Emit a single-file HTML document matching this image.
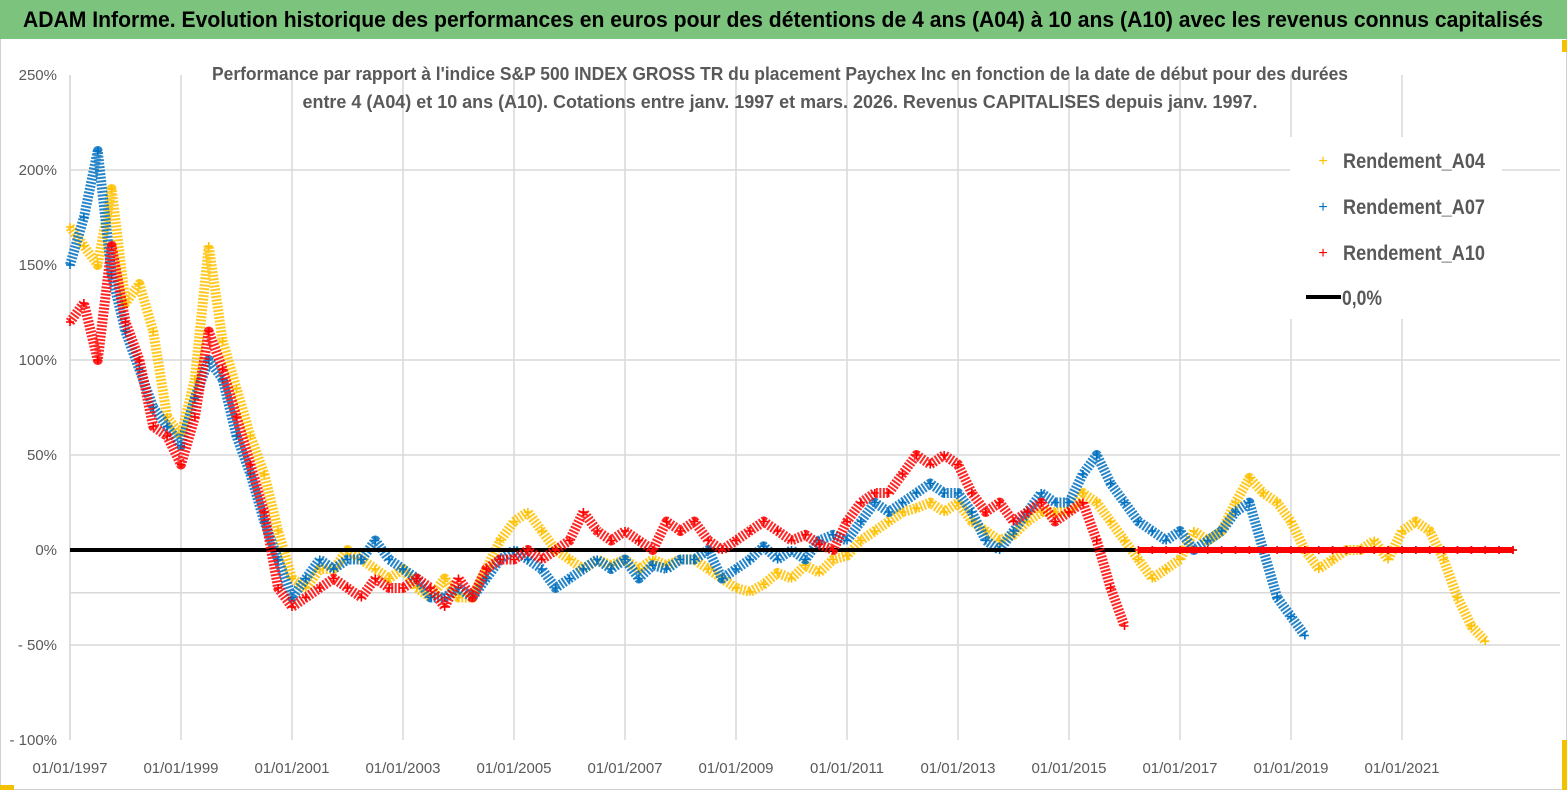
<!DOCTYPE html>
<html><head><meta charset="utf-8"><style>
html,body{margin:0;padding:0;background:#fff;}
svg{display:block;font-family:"Liberation Sans Narrow","Liberation Sans",sans-serif;}
</style></head><body>
<svg id="chart" width="1567" height="790" viewBox="0 0 1567 790" xmlns="http://www.w3.org/2000/svg">
<rect x="0.5" y="0.5" width="1566" height="789" fill="#fff" stroke="#d0d0d0"/>
<rect x="0" y="0" width="1567" height="39" fill="#7cc47e"/>
<text x="783" y="27" text-anchor="middle" font-size="22" font-weight="bold" fill="#000" textLength="1520" lengthAdjust="spacingAndGlyphs">ADAM Informe. Evolution historique des performances en euros pour des détentions de 4 ans (A04) à 10 ans (A10) avec les revenus connus capitalisés</text>
<g id="grid"></g>
<g id="yaxis"></g>
<g id="xaxis"></g>
<g id="series"></g>
<text x="780" y="80" text-anchor="middle" font-size="18" font-weight="bold" fill="#595959" textLength="1136" lengthAdjust="spacingAndGlyphs">Performance par rapport à l'indice S&amp;P 500 INDEX GROSS TR  du placement Paychex Inc en fonction de la date de début pour des durées</text>
<text x="780" y="108" text-anchor="middle" font-size="18" font-weight="bold" fill="#595959" textLength="955" lengthAdjust="spacingAndGlyphs">entre 4 (A04) et 10 ans (A10). Cotations entre janv. 1997 et mars. 2026. Revenus CAPITALISES depuis janv. 1997.</text>
<g>
<rect x="1290" y="137" width="212" height="182" fill="#fff"/>
<g><text x="1323" y="166" font-size="16" fill="#FFC000" text-anchor="middle">+</text><text x="1343" y="168" font-size="21" font-weight="bold" fill="#595959" textLength="142" lengthAdjust="spacingAndGlyphs">Rendement_A04</text></g>
<g><text x="1323" y="212" font-size="16" fill="#0070C0" text-anchor="middle">+</text><text x="1343" y="214" font-size="21" font-weight="bold" fill="#595959" textLength="142" lengthAdjust="spacingAndGlyphs">Rendement_A07</text></g>
<g><text x="1323" y="258" font-size="16" fill="#FF0000" text-anchor="middle">+</text><text x="1343" y="260" font-size="21" font-weight="bold" fill="#595959" textLength="142" lengthAdjust="spacingAndGlyphs">Rendement_A10</text></g>
<g><line x1="1306" y1="297" x2="1341" y2="297" stroke="#000" stroke-width="4"/><text x="1342" y="305" font-size="21" font-weight="bold" fill="#595959" textLength="40" lengthAdjust="spacingAndGlyphs">0,0%</text></g>
</g>
<rect x="0" y="785" width="14" height="5" fill="#f2c200"/>
<rect x="1562" y="740" width="5" height="50" fill="#f2c200"/>
<rect x="1562" y="40" width="5" height="12" fill="#f2c200"/>
</svg>
<script>
const startYear = 1997;
const stepYears = 0.25;
const yTicks = [250, 200, 150, 100, 50, 0, -50, -100];
const yTickLabels = ["250%", "200%", "150%", "100%", "50%", "0%", "- 50%", "- 100%"];
const yGridValues = [200, 100, 50, -22.5, -50];
const xTickYears = [1997, 1999, 2001, 2003, 2005, 2007, 2009, 2011, 2013, 2015, 2017, 2019, 2021];
const xTickLabels = ["01/01/1997","01/01/1999","01/01/2001","01/01/2003","01/01/2005","01/01/2007","01/01/2009","01/01/2011","01/01/2013","01/01/2015","01/01/2017","01/01/2019","01/01/2021"];
const zeroLineEndYear = 2016.2;
const rendementA04 = [170,160,150,190, 130,140,115,70, 60,90,160,110, 85,60,40,10, -15,-20,-10,-10, 0,-5,-10,-15, -10,-20,-25,-15, -25,-25,-10,5, 15,20,10,0, -5,-10,-5,-8, -5,-10,-5,-8, -5,-5,-10,-15, -20,-22,-18,-12, -15,-8,-12,-5, -3,5,10,15, 20,22,25,20, 25,15,10,5, 8,15,20,20, 20,30,25,15, 5,-5,-15,-10, -5,10,5,10, 25,38,30,25, 15,0,-10,-5, 0,0,5,-5, 10,15,10,-5, -25,-40,-48,0, 0];
const rendementA07 = [150,175,210,145, 115,95,75,65, 55,80,100,90, 60,40,15,-5, -25,-15,-5,-10, -5,-5,5,-5, -10,-15,-25,-25, -20,-25,-15,-5, 0,-5,-10,-20, -15,-10,-5,-10, -5,-15,-8,-10, -5,-5,0,-15, -10,-5,2,-5, 0,-5,5,8, 5,15,25,20, 25,30,35,30, 30,20,5,0, 10,20,30,25, 25,40,50,35, 25,15,10,5, 10,0,5,10, 20,25,0,-25, -35,-45,0,0, 0,0,0,0, 0,0,0,0, 0,0,0,0, 0];
const rendementA10 = [120,130,100,160, 120,100,65,60, 45,70,115,95, 70,45,20,-20, -30,-25,-20,-15, -20,-25,-15,-20, -20,-15,-20,-30, -15,-25,-10,-5, -5,0,-5,0, 5,20,10,5, 10,5,0,15, 10,15,5,0, 5,10,15,10, 5,8,3,0, 15,25,30,30, 40,50,45,50, 45,30,20,25, 15,20,25,15, 20,25,5,-20, -40,0,0,0, 0,0,0,0, 0,0,0,0, 0,0,0,0, 0,0,0,0, 0,0,0,0, 0,0,0,0, 0];

const NS = "http://www.w3.org/2000/svg";
const X0 = 70, PXYEAR = 55.5, Y0 = 550, PXPCT = 1.9;
function xScale(year){ return X0 + (year - startYear) * PXYEAR; }
function yScale(v){ return Y0 - v * PXPCT; }
function mk(tag, attrs, parent){ const e = document.createElementNS(NS, tag); for (const k in attrs) e.setAttribute(k, attrs[k]); parent.appendChild(e); return e; }

const grid = document.getElementById('grid');
const yaxis = document.getElementById('yaxis');
const xaxis = document.getElementById('xaxis');
const series = document.getElementById('series');

xTickYears.forEach((yr, i) => {
  const l = mk('line', {x1: xScale(yr), x2: xScale(yr), y1: yScale(250), y2: yScale(-100), stroke: '#d9d9d9', 'stroke-width': 1.5}, grid);
  
  
  const t = mk('text', {x: xScale(yr), y: 773, 'text-anchor': 'middle', 'font-size': 15, fill: '#595959'}, xaxis);
  t.textContent = xTickLabels[i];
  
  
});
yGridValues.forEach(v => {
  const l = mk('line', {x1: X0, x2: 1560, y1: yScale(v), y2: yScale(v), stroke: '#d9d9d9', 'stroke-width': 1.5}, grid);
  
  
});
yTicks.forEach((v, i) => {
  const t = mk('text', {x: 57, y: yScale(v) + 5, 'text-anchor': 'end', 'font-size': 15, fill: '#595959'}, yaxis);
  t.textContent = yTickLabels[i];
  
  
});

function lastNonZero(arr){ let k = 0; arr.forEach((v, i) => { if (v !== 0) k = i; }); return k; }
function drawSeries(arr, color, name){
  const g = mk('g', {}, series);
  
  
  const end = lastNonZero(arr);
  const pts = arr.slice(0, end + 1).map((v, i) => xScale(startYear + i * stepYears) + ',' + yScale(v)).join(' ');
  mk('polyline', {points: pts, fill: 'none', stroke: color, 'stroke-width': 10, 'stroke-linejoin': 'round', 'stroke-dasharray': '2 1.5', opacity: 0.85}, g);
  if (end < arr.length - 1) {
    const zpts = arr.slice(end + 1).map((v, j) => xScale(startYear + (end + 1 + j) * stepYears) + ',' + yScale(v)).join(' ');
    mk('polyline', {points: zpts, fill: 'none', stroke: color, 'stroke-width': 6}, g);
  }
  arr.forEach((v, i) => {
    const x = xScale(startYear + i * stepYears), y = yScale(v);
    const c = mk('path', {d: `M${x-4},${y}H${x+4}M${x},${y-4}V${y+4}`, stroke: color, 'stroke-width': 1.6, fill: 'none'}, g);
    
    
  });
}
drawSeries(rendementA04, '#FFC000', 'series-a04');
drawSeries(rendementA07, '#0070C0', 'series-a07');
const zl = mk('line', {x1: X0, x2: xScale(zeroLineEndYear), y1: yScale(0), y2: yScale(0), stroke: '#000', 'stroke-width': 4}, series);


drawSeries(rendementA10, '#FF0000', 'series-a10');
const ax = mk('line', {x1: X0, x2: X0, y1: yScale(250), y2: yScale(-100), stroke: '#d9d9d9', 'stroke-width': 1.5}, grid);


</script>
</body></html>
